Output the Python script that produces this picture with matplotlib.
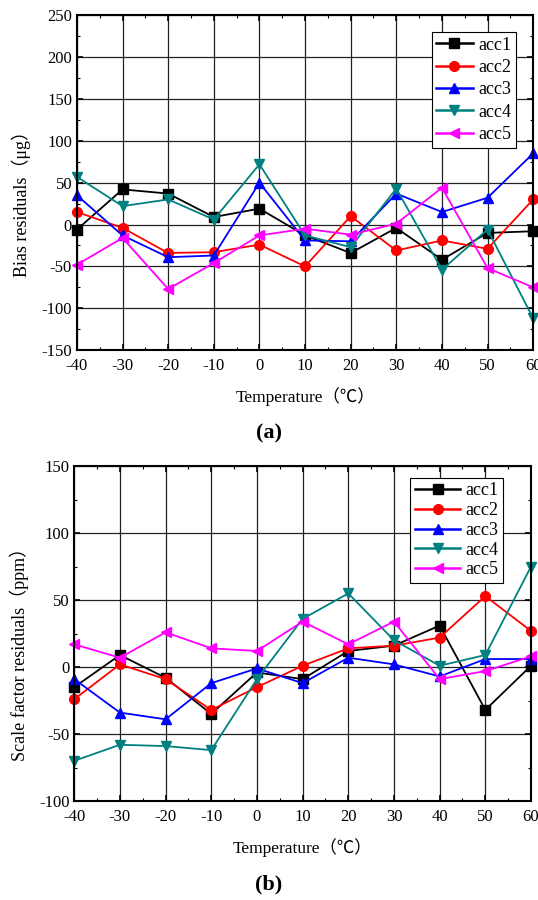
import matplotlib.pyplot as plt
import numpy as np
from matplotlib.ticker import MultipleLocator

plt.rcParams['font.family'] = ['Liberation Serif', 'Noto Sans CJK SC', 'DejaVu Sans']
plt.rcParams['axes.unicode_minus'] = False

temps = [-40, -30, -20, -10, 0, 10, 20, 30, 40, 50, 60]
names = ['acc1', 'acc2', 'acc3', 'acc4', 'acc5']
colors = ['black', 'red', 'blue', '#008080', 'magenta']
markers = ['s', 'o', '^', 'v', '<']

# (a) bias residuals, ug
bias_acc1 = [-6, 42, 37, 9, 19, -13, -34, -4, -42, -10, -8]
bias_acc2 = [15, -4, -34, -33, -24, -50, 10, -31, -19, -29, 30]
bias_acc3 = [35, -13, -39, -37, 50, -19, -20, 37, 15, 32, 85]
bias_acc4 = [57, 22, 30, 6, 72, -13, -27, 43, -54, -6, -112]
bias_acc5 = [-48, -16, -77, -46, -13, -5, -12, 1, 44, -52, -75]

# (b) scale factor residuals, ppm
sf_acc1 = [-15, 9, -8, -35, -4, -9, 12, 16, 31, -32, 1]
sf_acc2 = [-24, 2, -9, -32, -15, 1, 14, 16, 22, 53, 27]
sf_acc3 = [-9, -34, -39, -12, -1, -12, 7, 2, -7, 6, 6]
sf_acc4 = [-70, -58, -59, -62, -9, 36, 55, 20, 1, 9, 75]
sf_acc5 = [17, 7, 26, 14, 12, 34, 17, 34, -9, -3, 8]

bias = [bias_acc1, bias_acc2, bias_acc3, bias_acc4, bias_acc5]
sf = [sf_acc1, sf_acc2, sf_acc3, sf_acc4, sf_acc5]

fig = plt.figure(figsize=(5.38, 9), dpi=100)
ax1 = fig.add_axes([0.143, 0.611, 0.848, 0.372])
ax2 = fig.add_axes([0.138, 0.110, 0.849, 0.372])


def style(ax, ylim, ystep, ylabel, legbox, legfont, hlen, lspace):
    ax.set_xlim(-40, 60)
    ax.set_ylim(*ylim)
    ax.xaxis.set_major_locator(MultipleLocator(10))
    ax.xaxis.set_minor_locator(MultipleLocator(5))
    ax.yaxis.set_major_locator(MultipleLocator(ystep))
    ax.yaxis.set_minor_locator(MultipleLocator(ystep / 2))
    ax.grid(True, which='major', color='#222222', linewidth=0.9)
    ax.set_axisbelow(True)
    ax.tick_params(which='both', direction='in', top=True, right=True,
                   labelsize=12)
    ax.tick_params(axis='x', pad=6)
    ax.tick_params(which='major', length=4, width=1.2)
    ax.tick_params(which='minor', length=2, width=0.8)
    for s in ax.spines.values():
        s.set_linewidth(1.5)
    ax.set_xlabel('Temperature（℃）', fontsize=12.5, labelpad=9)
    ax.set_ylabel(ylabel, fontsize=13)
    ax.yaxis.set_label_coords(-0.1, 0.45)
    leg = ax.legend(loc='upper left', bbox_to_anchor=legbox, fontsize=legfont,
                    fancybox=False, edgecolor='black', framealpha=1,
                    borderpad=0.25, labelspacing=lspace, handlelength=hlen,
                    handletextpad=0.3, borderaxespad=0)
    leg.get_frame().set_linewidth(0.8)
    for h in leg.legend_handles:
        h.set_linewidth(1.8)


for i in range(5):
    ax1.plot(temps, bias[i], color=colors[i], marker=markers[i],
             markersize=7, linewidth=1.3, label=names[i], clip_on=False)
    ax2.plot(temps, sf[i], color=colors[i], marker=markers[i],
             markersize=7, linewidth=1.3, label=names[i], clip_on=False)

style(ax1, (-150, 250), 50, 'Bias residuals（μg）', (0.778, 0.95),
      13, 2.0, 0.3)
style(ax2, (-100, 150), 50, 'Scale factor residuals（ppm）', (0.736, 0.965),
      13, 2.5, 0.15)

fig.text(0.5, 0.518, '(a)', ha='center', va='center', fontsize=16,
         fontweight='bold')
fig.text(0.5, 0.017, '(b)', ha='center', va='center', fontsize=16,
         fontweight='bold')

fig.savefig('out.png', dpi=100)
